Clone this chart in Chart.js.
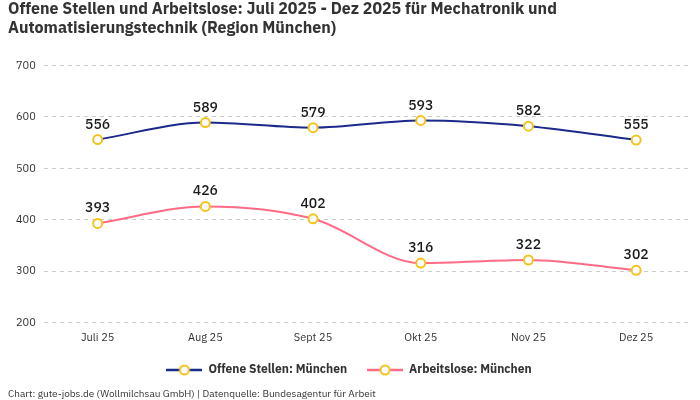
<!DOCTYPE html>
<html>
<head>
<meta charset="utf-8">
<script src="https://cdn.jsdelivr.net/npm/chart.js@4"></script>
<style>
  html, body { margin: 0; padding: 0; background: #fff; }
  #wrap { width: 700px; height: 400px; }
</style>
</head>
<body>
<div id="wrap"><canvas id="jobsChart"></canvas></div>
<script>
const months = ["Juli 25", "Aug 25", "Sept 25", "Okt 25", "Nov 25", "Dez 25"];
const offeneStellen = [556, 589, 579, 593, 582, 555];
const arbeitslose = [393, 426, 402, 316, 322, 302];
const yTicks = [200, 300, 400, 500, 600, 700];

const FONT = "'IBM Plex Sans', Inter, 'Noto Sans', sans-serif";
const textColor = "#333333";
const pointColor = "#f6c21c";

function legendIcon(color) {
    const c = document.createElement("canvas");
    c.width = 36;
    c.height = 14;
    const g = c.getContext("2d");
    g.strokeStyle = color;
    g.lineWidth = 2.5;
    g.beginPath();
    g.moveTo(0, 7);
    g.lineTo(36, 7);
    g.stroke();
    g.beginPath();
    g.arc(18, 7, 4.5, 0, Math.PI * 2);
    g.fillStyle = "#fff";
    g.fill();
    g.strokeStyle = pointColor;
    g.lineWidth = 2;
    g.stroke();
    return c;
}

// draws the value above each point
const valueLabels = {
    id: "valueLabels",
    afterDatasetsDraw(chart) {
        const ctx = chart.ctx;
        ctx.save();
        ctx.font = "500 14px " + FONT;
        ctx.fillStyle = "#1a1a1a";
        ctx.textAlign = "center";
        ctx.textBaseline = "bottom";
        chart.data.datasets.forEach((ds, i) => {
            chart.getDatasetMeta(i).data.forEach((pt, j) => {
                ctx.fillText(ds.data[j], pt.x, pt.y - 8);
            });
        });
        ctx.restore();
    }
};

const ctx = document.getElementById("jobsChart").getContext("2d");
new Chart(ctx, {
    type: "line",
    data: {
        labels: months,
        datasets: [
            {
                label: "Offene Stellen: München",
                data: offeneStellen,
                borderColor: "#1b2a8a",
                pointBorderColor: pointColor,
                pointBackgroundColor: "#fff",
                icon: legendIcon("#1b2a8a")
            },
            {
                label: "Arbeitslose: München",
                data: arbeitslose,
                borderColor: "#ff6b85",
                pointBorderColor: pointColor,
                pointBackgroundColor: "#fff",
                icon: legendIcon("#ff6b85")
            }
        ]
    },
    options: {
        responsive: true,
        maintainAspectRatio: false,
        animation: false,
        layout: { padding: { left: 8, right: 10, top: 0, bottom: 0 } },
        elements: {
            line: { borderWidth: 2, tension: 0.4, cubicInterpolationMode: "monotone" },
            point: { radius: 4.5, borderWidth: 2 }
        },
        scales: {
            x: {
                offset: true,
                grid: { display: false },
                border: { display: false },
                ticks: { color: textColor, font: { family: FONT, size: 11 }, padding: 0 }
            },
            y: {
                min: 200,
                max: 700,
                afterBuildTicks(axis) {
                    axis.ticks = yTicks.map(v => ({ value: v }));
                },
                grid: { color: "#cccccc", drawTicks: false },
                border: { display: false, dash: [4, 4] },
                ticks: { color: textColor, font: { family: FONT, size: 11 }, padding: 8 }
            }
        },
        plugins: {
            title: {
                display: true,
                text: ["Offene Stellen und Arbeitslose: Juli 2025 - Dez 2025 für Mechatronik und",
                       "Automatisierungstechnik (Region München)"],
                align: "start",
                color: textColor,
                font: { family: FONT, size: 16, weight: "bold", lineHeight: 1.2 },
                padding: { top: 0, bottom: 27 }
            },
            subtitle: {
                display: true,
                position: "bottom",
                align: "start",
                text: "Chart: gute-jobs.de (Wollmilchsau GmbH) | Datenquelle: Bundesagentur für Arbeit",
                color: textColor,
                font: { family: FONT, size: 10 },
                padding: { top: 2, bottom: 0 }
            },
            legend: {
                position: "bottom",
                labels: {
                    usePointStyle: true,
                    pointStyleWidth: 36,
                    boxHeight: 14,
                    color: textColor,
                    font: { family: FONT, size: 12, weight: "bold" },
                    padding: 20,
                    generateLabels(chart) {
                        return chart.data.datasets.map((ds, i) => ({
                            text: ds.label,
                            pointStyle: ds.icon,
                            fontColor: textColor,
                            datasetIndex: i,
                            hidden: false,
                            lineWidth: 0
                        }));
                    }
                }
            },
            tooltip: { enabled: false }
        }
    },
    plugins: [valueLabels]
});
</script>
</body>
</html>
